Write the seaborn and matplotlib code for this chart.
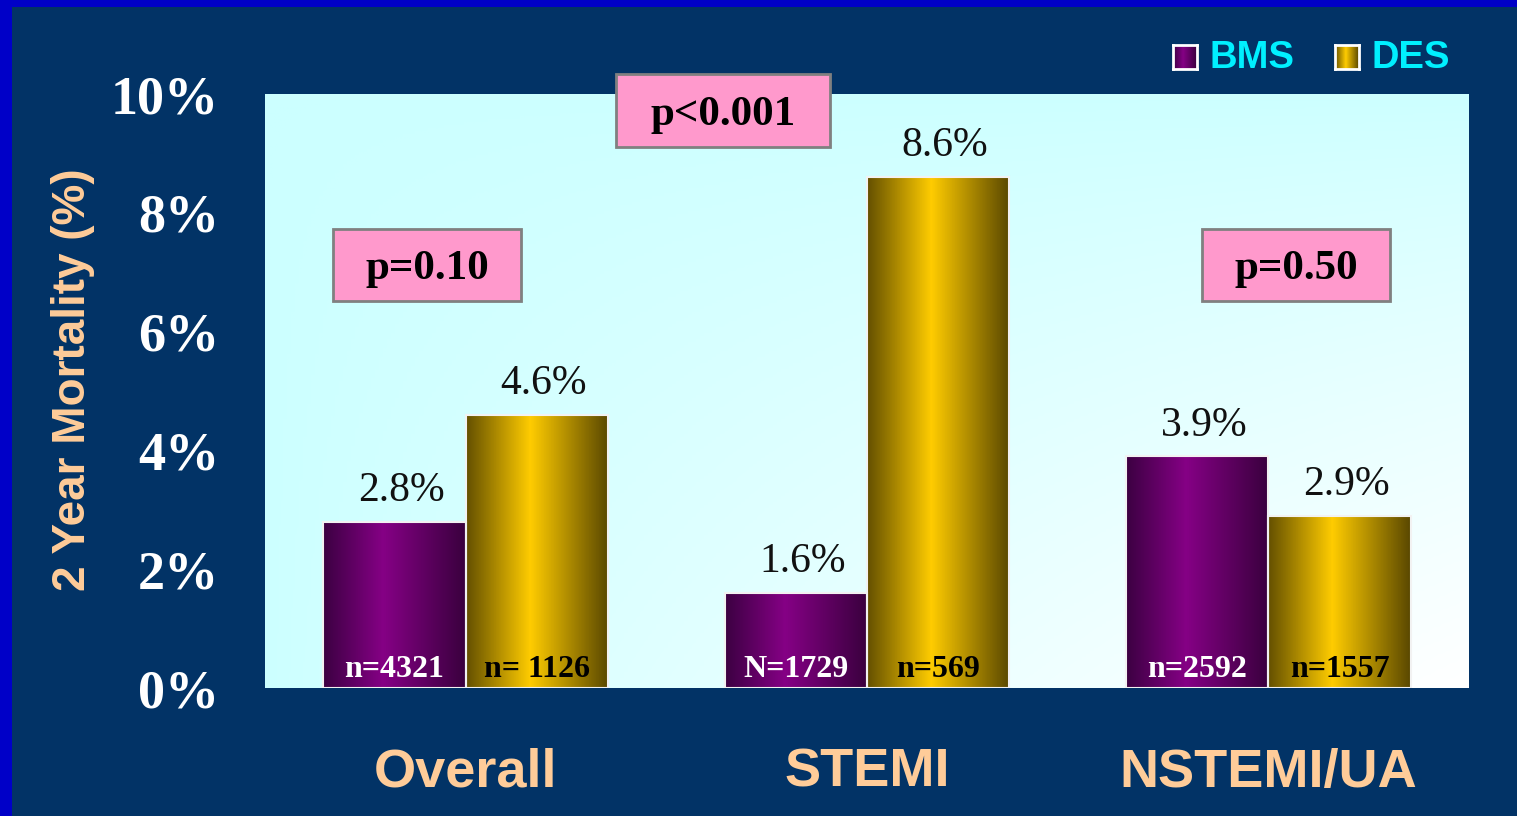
import numpy as np
import pandas as pd
import matplotlib
matplotlib.use("Agg")
import matplotlib.pyplot as plt
import seaborn as sns
from matplotlib.patches import Rectangle
from matplotlib.colors import LinearSegmentedColormap

# ---------------- data ----------------
groups = ["Overall", "STEMI", "NSTEMI/UA"]
stents = ["BMS", "DES"]
bms_values = [2.8, 1.6, 3.9]
des_values = [4.6, 8.6, 2.9]
bms_n = ["n=4321", "N=1729", "n=2592"]
des_n = ["n= 1126", "n=569", "n=1557"]
p_labels = ["p=0.10", "p<0.001", "p=0.50"]
yticks = [0, 2, 4, 6, 8, 10]
ytick_labels = ["0%", "2%", "4%", "6%", "8%", "10%"]
ylabel = "2 Year Mortality (%)"

# ---------------- style ----------------
NAVY = "#023366"
BORDER = "#0000c8"
PEACH = "#ffcc99"
CYAN = "#00f0ff"
PINK = "#ff99cc"
PURPLE = "#800080"
GOLD = "#ffcc00"
SERIF = ["Liberation Serif", "DejaVu Serif"]
SANS = ["Liberation Sans", "DejaVu Sans"]

sns.set_theme(style="white")
plt.rcParams["font.family"] = SANS

W, H = 1517, 816
fig = plt.figure(figsize=(W / 100, H / 100), dpi=100)
fig.patch.set_facecolor(NAVY)

def px_box(x0, y0, x1, y1):
    """pixel box (top-left origin) -> figure fraction (left, bottom, w, h)"""
    return (x0 / W, 1 - y1 / H, (x1 - x0) / W, (y1 - y0) / H)

# blue slide border
fig.add_artist(Rectangle((0, 0), 12 / W, 1, transform=fig.transFigure,
                         facecolor=BORDER, edgecolor="none", zorder=0))
fig.add_artist(Rectangle((0, 1 - 7 / H), 1, 7 / H, transform=fig.transFigure,
                         facecolor=BORDER, edgecolor="none", zorder=0))

ax = fig.add_axes(px_box(265, 94, 1469, 688))

# plot-area gradient background (light cyan -> white)
ny, nx = 200, 300
X = np.linspace(0, 1, nx)[None, :]
Y = np.linspace(0, 1, ny)[:, None]
wgrad = np.clip((X * Y) ** 0.8, 0, 1)
bg_cmap = LinearSegmentedColormap.from_list("bg", ["#ccffff", "#ffffff"])
ax.imshow(wgrad, cmap=bg_cmap, extent=(0, 1, 0, 1), transform=ax.transAxes,
          aspect="auto", zorder=0, vmin=0, vmax=1)

df = pd.DataFrame({
    "group": groups * 2,
    "stent": [stents[0]] * len(groups) + [stents[1]] * len(groups),
    "value": bms_values + des_values,
})

sns.barplot(data=df, x="group", y="value", hue="stent", order=groups,
            hue_order=stents, palette=[PURPLE, GOLD], width=0.71,
            saturation=1, errorbar=None, edgecolor="#f2f2f2", linewidth=1.5,
            legend=False, ax=ax, zorder=3)

purple_cmap = LinearSegmentedColormap.from_list(
    "pur", [(0, "#3c0042"), (0.42, "#850085"), (1, "#3a003e")])
gold_cmap = LinearSegmentedColormap.from_list(
    "gld", [(0, "#645000"), (0.45, "#ffcc00"), (1, "#5a4800")])
profile = np.linspace(0, 1, 200)[None, :]

bars = [p for p in ax.patches if p.get_height() > 0]
n_labels = bms_n + des_n
vals = bms_values + des_values
for i, bar in enumerate(bars):
    x, w, h = bar.get_x(), bar.get_width(), bar.get_height()
    cmap = purple_cmap if i < len(groups) else gold_cmap
    ax.imshow(profile, cmap=cmap, extent=(x, x + w, 0, h), aspect="auto",
              zorder=2.5, vmin=0, vmax=1)
    bar.set_facecolor("none")
    bar.set_zorder(3)
    cx = x + w / 2
    ax.annotate(f"{vals[i]}%", (cx, h), xytext=(5, 15), textcoords="offset points",
                ha="center", va="baseline", fontsize=30, family=SERIF,
                color="#111111", zorder=5)
    ax.annotate(n_labels[i], (cx, 0), xytext=(0, 8), textcoords="offset points",
                ha="center", va="baseline", fontsize=23, family=SERIF,
                fontweight="bold", color="white" if i < len(groups) else "black",
                zorder=5)

ax.set_xlim(-0.5, len(groups) - 0.5)
ax.set_ylim(0, 10)
ax.set_yticks(yticks)
ax.set_yticklabels(ytick_labels, fontsize=39, fontweight="bold", family=SERIF,
                   color="white")
ax.set_xticks(range(len(groups)))
ax.set_xticklabels(groups, fontsize=39, fontweight="bold", family=SANS, color=PEACH)
ax.tick_params(axis="y", length=0, pad=33)
ax.tick_params(axis="x", length=0, pad=43)
ax.set_xlabel("")
ax.set_ylabel("")
for s in ax.spines.values():
    s.set_visible(False)

fig.text(73 / W, 1 - 380 / H, ylabel, rotation=90, ha="center", va="center",
         fontsize=33, fontweight="bold", family=SANS, color=PEACH)

# p-value boxes
p_boxes = [(333, 229, 521, 301), (616, 74, 830, 147), (1202, 229, 1390, 301)]
for lab, (x0, y0, x1, y1) in zip(p_labels, p_boxes):
    fig.add_artist(Rectangle(px_box(x0, y0, x1, y1)[:2], (x1 - x0) / W, (y1 - y0) / H,
                             transform=fig.transFigure, facecolor=PINK,
                             edgecolor="#808080", linewidth=2, zorder=6))
    fig.text((x0 + x1) / 2 / W, 1 - (y0 + y1) / 2 / H, lab, ha="center",
             va="center_baseline", fontsize=31, fontweight="bold", family=SERIF,
             color="black", zorder=7)

# legend
leg_items = [(stents[0], purple_cmap, 1173, 1210), (stents[1], gold_cmap, 1335, 1372)]
for lab, cmap, sx, tx in leg_items:
    lax = fig.add_axes(px_box(sx, 45, sx + 24, 69))
    lax.imshow(profile, cmap=cmap, aspect="auto", vmin=0, vmax=1)
    lax.set_xticks([])
    lax.set_yticks([])
    for s in lax.spines.values():
        s.set_visible(True)
        s.set_color("white")
        s.set_linewidth(2)
    fig.text(tx / W, 1 - 58 / H, lab, ha="left", va="center", fontsize=27.5,
             fontweight="bold", family=SANS, color=CYAN)

fig.savefig("out.png", dpi=100, facecolor=fig.get_facecolor())
